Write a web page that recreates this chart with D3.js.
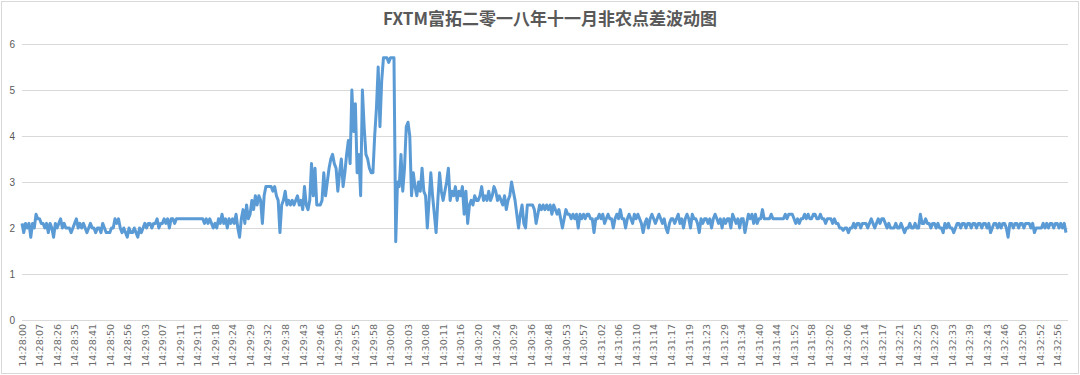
<!DOCTYPE html>
<html><head><meta charset="utf-8">
<script src="https://cdnjs.cloudflare.com/ajax/libs/d3/7.8.5/d3.min.js"></script>
<style>
html,body{margin:0;padding:0;background:#fff;}
svg{display:block;}
</style></head>
<body>
<svg id="chart" width="1080" height="375"></svg>
<script>
const title = "FXTM富拓二零一八年十一月非农点差波动图";
const tickLabels = ["14:28:00","14:28:07","14:28:26","14:28:35","14:28:41","14:28:50","14:28:56","14:29:03","14:29:07","14:29:11","14:29:11","14:29:18","14:29:24","14:29:29","14:29:32","14:29:38","14:29:43","14:29:46","14:29:50","14:29:55","14:29:58","14:30:00","14:30:03","14:30:08","14:30:11","14:30:16","14:30:20","14:30:24","14:30:29","14:30:36","14:30:48","14:30:53","14:30:57","14:31:02","14:31:06","14:31:10","14:31:14","14:31:17","14:31:19","14:31:23","14:31:29","14:31:34","14:31:40","14:31:44","14:31:52","14:31:58","14:32:02","14:32:06","14:32:14","14:32:17","14:32:21","14:32:25","14:32:29","14:32:33","14:32:39","14:32:43","14:32:46","14:32:50","14:32:52","14:32:56"];
const labelEvery = 10;
const yTicks = [0,1,2,3,4,5,6];
const spread = [
2.1,1.9,2.1,2.0,2.1,1.8,2.1,2.0,2.3,2.2,
2.2,2.1,2.1,2.0,2.1,1.9,2.1,2.0,1.8,2.1,
2.0,2.1,2.2,2.0,2.1,2.0,2.0,2.0,1.9,2.0,
2.1,2.2,2.0,2.1,2.0,2.1,2.0,1.9,2.0,2.1,
2.0,2.0,1.9,2.0,2.0,1.9,2.1,2.0,1.9,1.9,
1.9,2.0,2.0,2.2,2.1,2.2,2.0,1.9,2.0,1.9,
1.8,2.0,1.9,1.9,2.0,1.9,1.8,2.0,1.9,2.0,
2.1,2.0,2.1,2.1,2.0,2.1,2.1,2.2,2.0,2.1,
2.1,2.2,2.1,2.2,2.0,2.2,2.2,2.1,2.2,2.2,
2.2,2.2,2.2,2.2,2.2,2.2,2.2,2.2,2.2,2.2,
2.2,2.2,2.2,2.2,2.1,2.2,2.1,2.2,2.1,2.0,
2.1,2.0,2.2,2.1,2.3,2.1,2.2,2.0,2.2,2.1,
2.2,2.1,2.3,2.0,1.8,2.2,2.4,2.1,2.5,2.2,
2.3,2.6,2.4,2.7,2.5,2.7,2.6,2.1,2.7,2.9,
2.9,2.9,2.9,2.8,2.9,2.7,2.6,1.9,2.5,2.6,
2.8,2.5,2.6,2.5,2.6,2.5,2.6,2.7,2.5,2.6,
2.4,2.9,2.5,2.4,2.6,3.4,2.7,3.3,2.5,2.5,
2.5,2.6,3.2,2.7,3.0,3.3,3.5,3.6,3.4,3.3,
2.8,3.2,3.5,2.9,3.2,3.6,3.9,3.4,5.0,4.1,
4.7,3.2,3.6,2.7,5.0,4.2,3.6,3.5,3.3,3.2,
3.2,4.0,4.6,5.5,4.2,5.2,5.7,5.7,5.7,5.6,
5.7,5.7,5.7,1.7,3.0,2.9,3.6,2.8,3.3,4.2,
4.3,4.0,2.7,3.2,2.9,2.7,3.0,2.8,3.3,2.8,
2.7,2.0,2.6,3.2,2.7,2.3,1.9,2.6,3.2,2.8,
2.6,2.8,3.0,3.3,2.6,2.8,2.7,2.9,2.6,2.8,
2.7,2.9,2.3,2.8,2.1,2.5,2.6,2.5,2.7,2.6,
2.6,2.7,2.9,2.6,2.7,2.6,2.8,2.6,2.7,2.9,
2.8,2.6,2.7,2.6,2.5,2.7,2.4,2.6,2.7,3.0,
2.8,2.6,2.3,2.0,2.3,2.5,2.1,2.0,2.5,2.5,
2.5,2.5,2.4,2.1,2.3,2.5,2.4,2.5,2.4,2.5,
2.4,2.5,2.3,2.5,2.4,2.3,2.4,2.2,2.0,2.2,
2.4,2.3,2.3,2.2,2.3,2.2,2.3,2.0,2.3,2.2,
2.3,2.2,2.3,2.3,2.2,2.2,1.9,2.2,2.2,2.3,
2.2,2.3,2.1,2.2,2.3,2.2,2.2,2.0,2.2,2.3,
2.2,2.4,2.2,2.2,2.0,2.2,2.3,2.2,2.1,2.3,
2.2,2.3,2.2,2.1,1.9,2.1,2.2,2.0,2.2,2.3,
2.2,2.1,2.2,2.3,2.2,2.1,2.2,2.0,1.9,2.1,
2.2,2.2,2.1,2.2,2.3,2.1,2.2,2.0,2.2,2.3,
2.2,2.0,2.3,2.2,2.2,2.1,1.9,2.2,2.1,2.2,
2.2,2.1,2.2,2.0,2.2,2.3,2.2,2.1,2.2,2.0,
2.2,2.1,2.2,2.2,2.0,2.3,2.2,2.1,2.2,2.0,
2.2,2.2,1.9,2.1,2.3,2.2,2.3,2.1,2.3,2.1,
2.2,2.2,2.4,2.2,2.2,2.2,2.2,2.3,2.2,2.2,
2.2,2.2,2.2,2.2,2.2,2.3,2.2,2.3,2.3,2.3,
2.2,2.1,2.2,2.1,2.2,2.2,2.3,2.2,2.3,2.2,
2.2,2.3,2.3,2.2,2.2,2.3,2.2,2.2,2.1,2.2,
2.2,2.2,2.1,2.2,2.1,2.1,2.0,2.0,1.95,2.0,
2.0,1.9,2.0,2.0,2.1,2.0,2.1,2.1,2.0,2.1,
2.1,2.1,2.0,2.1,2.2,2.1,2.0,2.1,2.2,2.1,
2.2,2.2,2.1,2.0,2.1,2.0,2.0,2.0,2.1,2.0,
2.0,2.1,2.0,1.9,2.0,2.0,2.1,2.0,2.0,2.1,
2.0,2.0,2.3,2.1,2.1,2.2,2.1,2.1,2.0,2.1,
2.1,2.0,2.1,2.0,2.0,1.9,2.1,2.0,2.1,2.0,
2.0,1.9,2.0,2.1,2.1,2.0,2.1,2.1,2.0,2.1,
2.1,2.0,2.1,2.1,2.0,2.1,2.1,2.0,2.1,2.1,
2.0,2.1,1.9,2.0,2.1,2.1,2.0,2.1,2.0,2.1,
2.1,2.0,1.8,2.1,2.1,2.0,2.1,2.1,2.0,2.1,
2.1,2.0,2.1,2.1,2.1,2.0,2.1,1.9,2.0,2.0,
2.0,2.0,2.1,2.0,2.1,2.0,2.1,2.1,2.0,2.1,
2.1,2.0,2.1,2.0,2.1,1.9
];

const svg = d3.select("#chart");
const plot = {left: 22, right: 1066, top: 44, bottom: 320};

svg.append("rect").attr("x",1.5).attr("y",1.5).attr("width",1077).attr("height",372)
  .attr("fill","#fff").attr("stroke","#d9d9d9").attr("stroke-width",1);

svg.append("text").attr("x",550).attr("y",25).attr("text-anchor","middle")
  .attr("font-family","'Noto Sans CJK SC', sans-serif").attr("font-size",17).attr("font-weight","bold")
  .attr("fill","#595959").text(title);

const x = d3.scaleLinear().domain([0, spread.length-1]).range([plot.left, plot.right]);
const y = d3.scaleLinear().domain([0, 6]).range([plot.bottom, plot.top]);

// gridlines + y labels
const yAxis = d3.axisLeft(y).tickValues(yTicks).tickSize(-(plot.right - plot.left + 2)).tickFormat(d3.format("d")).tickPadding(7);
const gy = svg.append("g").attr("transform",`translate(${plot.left},0)`).call(yAxis);
gy.select(".domain").remove();
gy.selectAll(".tick line").attr("stroke","#d9d9d9").attr("stroke-width",1);
gy.selectAll(".tick text").attr("fill","#595959").attr("font-family","'Liberation Sans', Arial, sans-serif").attr("font-size",10);

// x labels
const tickIdx = tickLabels.map((_,i)=>i*labelEvery);
const xAxis = d3.axisBottom(x).tickValues(tickIdx).tickSize(0).tickFormat((d,i)=>tickLabels[i]);
const gx = svg.append("g").attr("transform",`translate(0,${plot.bottom})`).call(xAxis);
gx.select(".domain").remove();
gx.selectAll(".tick text").attr("fill","#6b6b6b").attr("font-family","'DejaVu Sans', sans-serif").attr("font-size",9.5)
  .attr("text-anchor","end").attr("transform","rotate(-90)").attr("x",-4).attr("y",0).attr("dy","0.35em");

const line = d3.line().x((d,i)=>x(i)).y(d=>y(d));
svg.append("path").datum(spread).attr("d",line).attr("fill","none")
  .attr("stroke","#5B9BD5").attr("stroke-width",3).attr("stroke-linejoin","round");
</script>
</body></html>
